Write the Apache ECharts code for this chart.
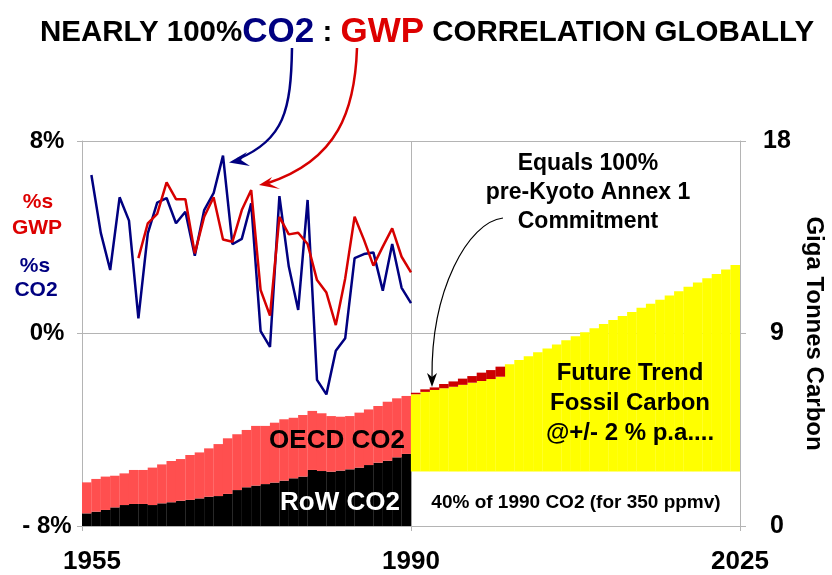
<!DOCTYPE html>
<html>
<head>
<meta charset="utf-8">
<script src="https://cdn.jsdelivr.net/npm/echarts@6/dist/echarts.min.js"></script>
<style>
  html, body { margin: 0; padding: 0; background: #fff; }
  #chart { width: 832px; height: 575px; }
</style>
</head>
<body>
<div id="chart"></div>
<script>
const FONT = 'Liberation Sans, Arial, sans-serif';

// historic emissions, GtC per year (bars 1956..1990)
const histYears = [1956, 1957, 1958, 1959, 1960, 1961, 1962, 1963, 1964, 1965, 1966, 1967, 1968, 1969, 1970,
  1971, 1972, 1973, 1974, 1975, 1976, 1977, 1978, 1979, 1980, 1981, 1982, 1983, 1984, 1985, 1986, 1987, 1988, 1989, 1990];
const rowCO2 = [0.59, 0.67, 0.75, 0.87, 0.98, 1.03, 1.03, 0.98, 1.06, 1.11, 1.18, 1.22, 1.29, 1.37, 1.40,
  1.50, 1.68, 1.81, 1.89, 1.96, 2.03, 2.12, 2.23, 2.31, 2.62, 2.57, 2.54, 2.59, 2.65, 2.73, 2.85, 2.96, 3.05, 3.21, 3.37];
const oecdCO2 = [1.45, 1.53, 1.56, 1.48, 1.48, 1.59, 1.59, 1.75, 1.82, 1.93, 1.95, 2.10, 2.15, 2.26, 2.43,
  2.60, 2.61, 2.68, 2.79, 2.72, 2.80, 2.87, 2.83, 2.88, 2.76, 2.70, 2.60, 2.52, 2.49, 2.57, 2.60, 2.65, 2.76, 2.76, 2.71];

// annual growth, %
const co2Growth = [6.59, 4.18, 2.64, 5.66, 4.69, 0.63, 4.16, 5.44, 5.63, 4.58, 5.06, 3.23, 5.13, 5.83, 7.39,
  3.71, 3.93, 5.41, 0.10, -0.56, 5.71, 2.78, 0.98, 5.55, -1.93, -2.53, -0.72, -0.20, 3.13, 3.30, 3.37, 1.78, 3.72, 1.90, 1.26];
const gwpYears = [1961, 1962, 1963, 1964, 1965, 1966, 1967, 1968, 1969, 1970, 1971, 1972, 1973, 1974, 1975,
  1976, 1977, 1978, 1979, 1980, 1981, 1982, 1983, 1984, 1985, 1986, 1987, 1988, 1989, 1990];
const gwpGrowth = [3.13, 4.58, 4.97, 6.28, 5.58, 5.58, 3.33, 4.85, 5.66, 3.91, 3.81, 5.13, 5.96, 1.81, 0.74,
  4.85, 4.12, 4.19, 3.72, 2.22, 1.70, 0.35, 2.29, 4.85, 3.89, 2.82, 3.61, 4.37, 3.19, 2.54];

// future trend 1991..2025, GtC
const futureYears = [1991, 1992, 1993, 1994, 1995, 1996, 1997, 1998, 1999, 2000, 2001, 2002, 2003, 2004, 2005,
  2006, 2007, 2008, 2009, 2010, 2011, 2012, 2013, 2014, 2015, 2016, 2017, 2018, 2019, 2020, 2021, 2022, 2023, 2024, 2025];
const floorLevel = 2.55; // 40% of 1990 CO2
const trendTop = [6.23, 6.39, 6.48, 6.64, 6.76, 6.89, 7.01, 7.17, 7.29, 7.45, 7.56, 7.76, 7.94, 8.12, 8.30,
  8.49, 8.68, 8.87, 9.06, 9.25, 9.44, 9.63, 9.82, 10.01, 10.20, 10.39, 10.58, 10.78, 10.98, 11.18, 11.38, 11.58, 11.78, 11.99, 12.20];
const kyotoTop = [6.16, 6.27, 6.36, 6.44, 6.51, 6.60, 6.70, 6.78, 6.87, 6.98];

// one bar slot per year, 1956..2025
const slotYears = histYears.concat(futureYears);
const nHist = histYears.length;
const nFut = futureYears.length;
const zeros = n => Array(n).fill(0);

const rowData = rowCO2.concat(zeros(nFut));
const oecdData = oecdCO2.concat(zeros(nFut));
const baseData = zeros(nHist).concat(futureYears.map(() => floorLevel));
const yellowData = zeros(nHist).concat(trendTop.map((v, i) => (i < kyotoTop.length ? kyotoTop[i] : v) - floorLevel));
const darkData = zeros(nHist).concat(kyotoTop.map((v, i) => trendTop[i] - v), zeros(nFut - kyotoTop.length));

const NAVY = '#000080';
const RED = '#d60000';
const GRID = '#b4b4b4';

const bar = (name, data, color) => ({
  name, type: 'bar', stack: 'carbon', xAxisIndex: 0, yAxisIndex: 1, data,
  barWidth: '102%', itemStyle: { color }, silent: true
});

const txt = (x, y, text, size, color, extra) => ({
  type: 'text', x, y, silent: true, z: 20,
  style: Object.assign({ text, fill: color || '#000', font: 'bold ' + size + 'px ' + FONT, align: 'center', verticalAlign: 'middle' }, extra || {})
});

const curve = (p, color, width) => ({
  type: 'bezierCurve', silent: true, z: 20,
  shape: { x1: p[0], y1: p[1], cpx1: p[2], cpy1: p[3], cpx2: p[4], cpy2: p[5], x2: p[6], y2: p[7] },
  style: { fill: null, stroke: color, lineWidth: width }
});

const head = (points, color) => ({
  type: 'polygon', silent: true, z: 20,
  shape: { points },
  style: { fill: color }
});

const chart = echarts.init(document.getElementById('chart'));
chart.setOption({
  animation: false,
  backgroundColor: '#fff',
  title: {
    left: 35, top: 10,
    text: '{a|NEARLY 100%}{b|CO2}{a| : }{c|GWP}{a| CORRELATION GLOBALLY}',
    textStyle: {
      rich: {
        a: { fontFamily: FONT, fontWeight: 'bold', fontSize: 29.5, color: '#000' },
        b: { fontFamily: FONT, fontWeight: 'bold', fontSize: 35, color: NAVY },
        c: { fontFamily: FONT, fontWeight: 'bold', fontSize: 35, color: '#dd0000' }
      }
    }
  },
  grid: { left: 82, right: 92, top: 141, bottom: 49, outerBoundsMode: 'none', containLabel: false },
  xAxis: [{
    type: 'category', data: slotYears, boundaryGap: true,
    axisLine: { show: false }, axisTick: { show: false }, axisLabel: { show: false }, splitLine: { show: false }
  }, {
    type: 'value', min: 1955, max: 2025, interval: 35, position: 'bottom',
    axisLine: { lineStyle: { color: GRID } },
    axisTick: { lineStyle: { color: GRID }, length: 5 },
    splitLine: { show: true, lineStyle: { color: GRID } },
    axisLabel: {
      margin: 23, color: '#000', fontFamily: FONT, fontWeight: 'bold', fontSize: 26,
      formatter: v => v === 1955 ? '{f|1955}' : String(v),
      rich: { f: { fontFamily: FONT, fontWeight: 'bold', fontSize: 26, color: '#000', padding: [0, 0, 0, 20] } }
    }
  }],
  yAxis: [{
    type: 'value', min: -8, max: 8, interval: 8,
    axisLine: { show: true, lineStyle: { color: GRID } },
    axisTick: { show: true, lineStyle: { color: GRID }, length: 5 },
    splitLine: { show: true, lineStyle: { color: GRID } },
    axisLabel: {
      margin: 35, align: 'center', color: '#000', fontFamily: FONT, fontWeight: 'bold', fontSize: 24,
      formatter: v => v === -8 ? '- 8%' : v + '%'
    }
  }, {
    type: 'value', min: 0, max: 18, interval: 9, position: 'right',
    axisLine: { show: true, lineStyle: { color: GRID } },
    axisTick: { show: true, lineStyle: { color: GRID }, length: 6 },
    splitLine: { show: false },
    axisLabel: { margin: 37, align: 'center', color: '#000', fontFamily: FONT, fontWeight: 'bold', fontSize: 25 },
    name: 'Giga Tonnes Carbon', nameLocation: 'middle', nameRotate: -90, nameGap: 62,
    nameTextStyle: { color: '#000', fontFamily: FONT, fontWeight: 'bold', fontSize: 24 }
  }],
  series: [
    bar('RoW CO2', rowData, '#000'),
    bar('OECD CO2', oecdData, '#ff4f4f'),
    bar('floor', baseData, 'rgba(0,0,0,0)'),
    bar('Future Trend', yellowData, '#ffff00'),
    bar('Kyoto gap', darkData, '#cc0000'),
    {
      name: '%s CO2', type: 'line', xAxisIndex: 1, yAxisIndex: 0, symbol: 'none', z: 5, silent: true,
      data: histYears.map((y, i) => [y, co2Growth[i]]),
      lineStyle: { color: NAVY, width: 2.5 }
    },
    {
      name: '%s GWP', type: 'line', xAxisIndex: 1, yAxisIndex: 0, symbol: 'none', z: 6, silent: true,
      data: gwpYears.map((y, i) => [y, gwpGrowth[i]]),
      lineStyle: { color: RED, width: 2.5 }
    }
  ],
  graphic: [
    txt(38, 202, '%s', 21, '#dd0000'),
    txt(37, 228, 'GWP', 21, '#dd0000'),
    txt(35, 266, '%s', 21, NAVY),
    txt(36, 290, 'CO2', 21, NAVY),
    txt(337, 441, 'OECD CO2', 26, '#000'),
    txt(340, 503, 'RoW CO2', 26, '#fff'),
    txt(588, 193, 'Equals 100%\npre-Kyoto Annex 1\nCommitment', 23, '#000', { lineHeight: 29 }),
    txt(630, 403, 'Future Trend\nFossil Carbon\n@+/- 2 % p.a....', 24, '#000', { lineHeight: 30 }),
    txt(576, 503, '40% of 1990 CO2 (for 350 ppmv)', 19, '#000'),
    curve([292, 48, 291, 110, 284, 140, 238, 159], NAVY, 2.5),
    head([[229, 162.5], [247, 152], [241, 160], [250, 166]], NAVY),
    curve([357, 48, 355, 110, 338, 160, 268, 183], RED, 2.5),
    head([[259, 185], [272, 177], [268, 183], [280, 189]], RED),
    curve([503, 218, 468, 222, 431, 290, 432, 378], '#000', 1.2),
    head([[432, 387], [427, 373], [432, 377], [437, 373]], '#000')
  ]
});
</script>
</body>
</html>
